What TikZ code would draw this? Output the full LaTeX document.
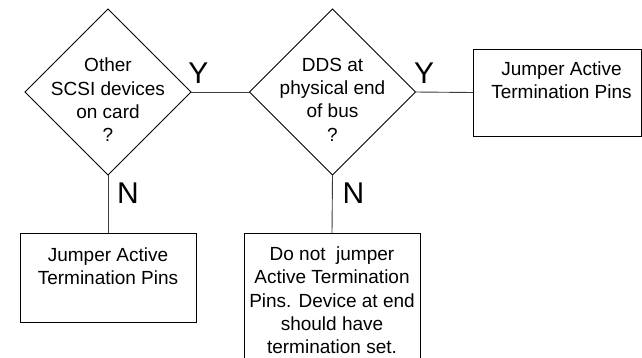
\documentclass[tikz,border=0pt]{standalone}
\usepackage{fontspec}
\setmainfont{Liberation Sans}
\usepackage{xcolor}
\usepackage{tikz}
\usetikzlibrary{positioning,shapes.geometric}
\definecolor{flowline}{RGB}{0,0,0}
\definecolor{linkgray}{RGB}{60,60,60}

\begin{document}
\begin{tikzpicture}[x=1pt,y=-1pt,
    decision/.style={shape=diamond, draw=flowline, line width=1pt, inner sep=0pt, outer sep=0pt,
        minimum width=166pt, minimum height=166pt},
    actionbox/.style={rectangle, draw=flowline, line width=1pt, inner sep=0pt, outer sep=0pt},
    flowtext/.style={align=center, inner sep=0pt, font=\fontsize{19}{23.3}\selectfont},
    answer/.style={anchor=base, inner sep=0pt, font=\fontsize{30}{30}\selectfont},
    link/.style={draw=linkgray, line width=0.9pt}]
                \useasboundingbox (0,0) rectangle (642,357);
                \clip (0,0) rectangle (642,357);
                % Decision diamonds
                \node[decision] (scsiq) at (108,92) {};
                \node[decision] (endq) at (332.5,92) {};
                \node[flowtext, anchor=north] (scsitext) at (108,57.8) {Other\\SCSI devices\\on card\\?};
                \node[flowtext, anchor=north] (endtext) at (332.5,57.8) {DDS at\\physical end\\of bus\\?};
                % Action boxes
                \node[actionbox, minimum width=176pt, minimum height=89pt] (jumpleft) at (108,277.5) {};
                \node[actionbox, minimum width=176pt, minimum height=150pt] (nojump) at (332,308) {};
                \node[actionbox, minimum width=168pt, minimum height=87pt] (jumpright) at (557,92.5) {};
                \node[flowtext, below=14.5pt of jumpleft.north] (jumplefttext) {Jumper Active\\Termination Pins};
                \node[flowtext, below=13.5pt of nojump.north] (nojumptext) {Do not\ \ jumper\\Active Termination\\Pins. Device at end\\should have\\termination set.};
                \node[flowtext, below=12.5pt of jumpright.north, xshift=4.5pt] (jumprighttext) {Jumper Active\\Termination Pins};
                % Connectors
                \draw[link] (scsiq.east) -- (endq.west);
                \draw[link] (endq.east) -- (jumpright.west);
                \draw[link] (scsiq.south) -- (jumpleft.north);
                \draw[link] (endq.south) -- (nojump.north);
                % Answers
                \node[answer] (yes1) at (198.5,83) {Y};
                \node[answer] (yes2) at (424,83) {Y};
                \node[answer] (no1) at (128,203) {N};
                \node[answer] (no2) at (353.5,203) {N};
            \end{tikzpicture}
\end{document}
